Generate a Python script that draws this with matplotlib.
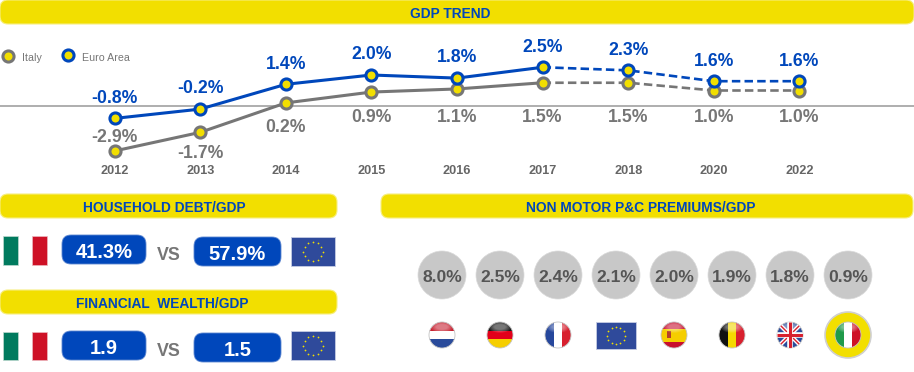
import numpy as np
import matplotlib
matplotlib.use("Agg")
import matplotlib.pyplot as plt
from matplotlib.patches import FancyBboxPatch, Circle, Rectangle, Ellipse

plt.rcParams['font.family'] = ['Liberation Sans', 'DejaVu Sans']

# data
years = ['2012', '2013', '2014', '2015', '2016', '2017', '2018', '2020', '2022']
italy = [-2.9, -1.7, 0.2, 0.9, 1.1, 1.5, 1.5, 1.0, 1.0]
euro_area = [-0.8, -0.2, 1.4, 2.0, 1.8, 2.5, 2.3, 1.6, 1.6]
last_actual = 5  # 2017, dashed after that

debt_values = ['41.3%', '57.9%']
wealth_values = ['1.9', '1.5']

premium_countries = ['NL', 'DE', 'FR', 'EU', 'ES', 'BE', 'UK', 'IT']
premiums = [8.0, 2.5, 2.4, 2.1, 2.0, 1.9, 1.8, 0.9]

YELLOW = '#F2DF00'
BLUE = '#0047BB'
GREY = '#767676'
W, H = 914, 372

fig = plt.figure(figsize=(W / 100, H / 100), dpi=100)
ax = fig.add_axes([0, 0, 1, 1])
ax.set_xlim(0, W)
ax.set_ylim(H, 0)
ax.axis('off')


def header(x0, x1, y0, y1, label, tx):
    ax.add_patch(FancyBboxPatch((x0 + 8, y0 + 8), x1 - x0 - 16, y1 - y0 - 16,
                                boxstyle='round,pad=8', fc=YELLOW, ec='#F7EE80', lw=0.8))
    ax.text(tx, (y0 + y1) / 2 + 2.5, label, color=BLUE,
            fontsize=9.9, fontweight='bold', ha='center', va='center')


def pill(x0, x1, y0, y1, label):
    ax.add_patch(FancyBboxPatch((x0 + 9, y0 + 9), x1 - x0 - 18, y1 - y0 - 18,
                                boxstyle='round,pad=9', fc=BLUE, ec='#5C86D0', lw=0.6))
    ax.text((x0 + x1) / 2, (y0 + y1) / 2 + 3, label, color='white',
            fontsize=14.5, fontweight='bold', ha='center', va='center')


def italy_flag(x0, y0, y1):
    ax.add_patch(Rectangle((x0, y0), 15, y1 - y0, fc='#007A5E', ec='#BFD9D0', lw=0.5))
    ax.add_patch(Rectangle((x0 + 29, y0), 15, y1 - y0, fc='#CE1126', ec='#EDB9BF', lw=0.5))


def eu_flag(x0, x1, y0, y1):
    ax.add_patch(Rectangle((x0, y0), x1 - x0, y1 - y0, fc='#2F4A9B', ec='#C5CCE3', lw=0.6))
    cx, cy = (x0 + x1) / 2, (y0 + y1) / 2
    r = (y1 - y0) * 0.33
    a = np.arange(12) * np.pi / 6
    ax.scatter(cx + r * np.cos(a), cy + r * np.sin(a), s=1.6, c='#F2DF00', lw=0, zorder=3)


def round_flag(cx, cy, r, kind):
    clip = Circle((cx, cy), r, transform=ax.transData)
    parts = []
    x0, y0, d = cx - r, cy - r, 2 * r
    if kind in ('NL', 'DE', 'ES'):
        cols = {'NL': ['#C8202F', '#FFFFFF', '#2A4B9B'],
                'DE': ['#1A1A1A', '#E2001A', '#F5CE00'],
                'ES': ['#C8102E', '#F5CE00', '#C8102E']}[kind]
        hs = [0.25, 0.5, 0.25] if kind == 'ES' else [1 / 3] * 3
        y = y0
        for c, h in zip(cols, hs):
            parts.append(Rectangle((x0, y), d, h * d + 0.3, fc=c, lw=0))
            y += h * d
    elif kind in ('FR', 'BE', 'IT'):
        cols = {'FR': ['#26479C', '#FFFFFF', '#D8202E'],
                'BE': ['#111111', '#F5D800', '#D8202E'],
                'IT': ['#1F9A4A', '#FFFFFF', '#CE1126']}[kind]
        for i, c in enumerate(cols):
            parts.append(Rectangle((x0 + i * d / 3, y0), d / 3 + 0.3, d, fc=c, lw=0))
    for p in parts:
        ax.add_patch(p)
        p.set_clip_path(clip)
    if kind == 'UK':
        bg = Rectangle((x0, y0), d, d, fc='#2A4B9B', lw=0)
        ax.add_patch(bg)
        bg.set_clip_path(clip)
        segs = [([x0, x0 + d], [y0, y0 + d], 'white', 3.0), ([x0, x0 + d], [y0 + d, y0], 'white', 3.0),
                ([x0, x0 + d], [y0, y0 + d], '#D8202E', 1.0), ([x0, x0 + d], [y0 + d, y0], '#D8202E', 1.0),
                ([cx, cx], [y0, y0 + d], 'white', 4.0), ([x0, x0 + d], [cy, cy], 'white', 4.0),
                ([cx, cx], [y0, y0 + d], '#D8202E', 2.2), ([x0, x0 + d], [cy, cy], '#D8202E', 2.2)]
        for xs, ys, c, lw in segs:
            l, = ax.plot(xs, ys, color=c, lw=lw, solid_capstyle='butt')
            l.set_clip_path(clip)
    if kind == 'ES':
        ax.add_patch(Rectangle((cx - 7, cy - 4), 4, 7, fc='#B5402A', lw=0))
    # soft gloss on top half, stacked so it has no hard edge
    for k in range(5):
        g = Ellipse((cx, cy - r * 0.62), r * (1.7 - 0.2 * k), r * (0.9 - 0.12 * k), fc='white', alpha=0.1, lw=0)
        ax.add_patch(g)
        g.set_clip_path(clip)
    ax.add_patch(Circle((cx, cy), r, fc='none', ec='#C4C4C4', lw=0.6))


# headers
header(0, 914, 0, 24, 'GDP TREND', 450)
header(0, 337, 194, 218, 'HOUSEHOLD DEBT/GDP', 164)
header(0, 337, 290, 314, 'FINANCIAL  WEALTH/GDP', 162)
header(381, 913, 194, 218, 'NON MOTOR P&C PREMIUMS/GDP', 641)

# legend
ax.plot([8], [56], 'o', ms=8, mfc=YELLOW, mec=GREY, mew=2.2)
ax.plot([68], [55], 'o', ms=8, mfc=YELLOW, mec=BLUE, mew=2.2)
ax.text(22, 58, 'Italy', color=GREY, fontsize=7.7, va='center')
ax.text(82, 58, 'Euro Area', color=GREY, fontsize=7.7, va='center')

# left panels
for y_flag, y_eu, vals, yp in [((236, 265), (237, 266), debt_values, (235, 237)),
                               ((332, 360), (331, 360), wealth_values, (331, 333))]:
    italy_flag(3, *y_flag)
    eu_flag(291, 335, *y_eu)
    pill(62, 146, yp[0], yp[0] + 29, vals[0])
    pill(194, 281, yp[1], yp[1] + 29, vals[1])
    ax.text(168.5, yp[0] + 20, 'VS', color=GREY, fontsize=12.8, fontweight='bold', ha='center', va='center')

# premiums panel
for i, (c, v) in enumerate(zip(premium_countries, premiums)):
    cx = 442 + 58 * i
    ax.add_patch(Circle((cx, 275), 24, fc='#C8C8C8', ec='#DADADA', lw=0.5))
    ax.text(cx, 277.5, f'{v:.1f}%', color='#555555', fontsize=12.6, fontweight='bold', ha='center', va='center')
    if c == 'EU':
        eu_flag(cx - 20, cx + 20, 322, 349)
    else:
        if c == 'IT':
            ax.add_patch(Circle((cx, 335), 23, fc=YELLOW, ec='#D0D0D0', lw=1.2))
        round_flag(cx, 335, 13, c)

# line chart, 0 at y=106 px, 15.5 px per point, 85.6 px per category
top, bottom = 30, 185
px_unit, px_cat, px_mid = 15.5, 85.6, 457
chart = fig.add_axes([0, 1 - bottom / H, 1, (bottom - top) / H])
chart.patch.set_alpha(0)
chart.set_xlim((0 - px_mid) / px_cat + 4, (W - px_mid) / px_cat + 4)
chart.set_ylim((106 - bottom) / px_unit, (106 - top) / px_unit)
for s in chart.spines.values():
    s.set_visible(False)
chart.set_yticks([])
x = np.arange(len(years))
chart.set_xticks(x, years)
chart.tick_params(axis='x', length=0, direction='in', pad=-14.4, labelsize=9.2, labelcolor='#666666')
for t in chart.get_xticklabels():
    t.set_fontweight('bold')
chart.axhline(0, color='#A8A8A8', lw=1.3, zorder=1)

for vals, col in [(italy, GREY), (euro_area, BLUE)]:
    chart.plot(x[:last_actual + 1], vals[:last_actual + 1], color=col, lw=2.2, zorder=2)
    chart.plot(x[last_actual:], vals[last_actual:], color=col, lw=1.9, ls=(0, (3.2, 1.6)), zorder=2)
    chart.plot(x, vals, 'o', ms=8, mfc=YELLOW, mec=col, mew=2.2, zorder=3)

for i, v in enumerate(euro_area):
    chart.annotate(f'{v:.1f}%', (i, v), xytext=(0, 14.5), textcoords='offset points', color=BLUE,
                   fontsize=12.7, fontweight='bold', ha='center', va='center')
for i, v in enumerate(italy):
    # first label sits above its marker, from 2015 on they line up under the axis
    if i == 0:
        off = 9.5
    elif i < 3:
        off = -15.5 - 2 * (i - 1)
    else:
        off = (-11.5 - v * px_unit) * 0.72
    chart.annotate(f'{v:.1f}%', (i, v), xytext=(0, off), textcoords='offset points', color=GREY,
                   fontsize=12.7, fontweight='bold', ha='center', va='center')

fig.savefig('out.png', dpi=100)
